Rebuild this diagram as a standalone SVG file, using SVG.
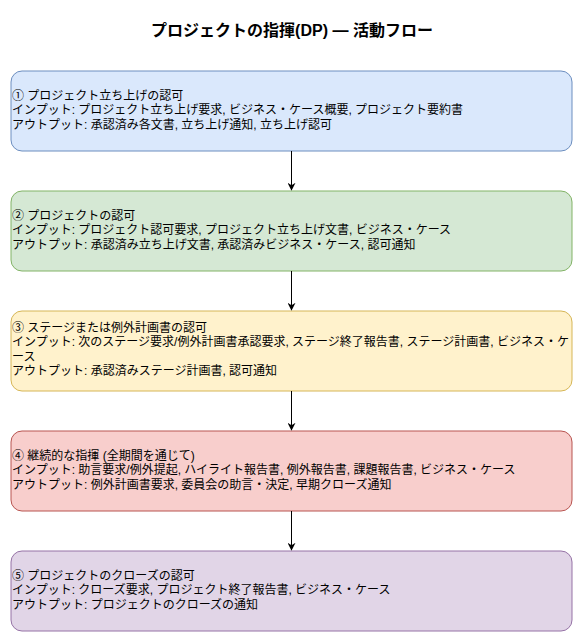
<svg xmlns="http://www.w3.org/2000/svg" width="584" height="643" viewBox="0 0 584 643">
<defs>
<marker id="arr" viewBox="0 0 10 10" refX="9" refY="5" markerWidth="8" markerHeight="8" markerUnits="userSpaceOnUse" orient="auto">
<path d="M0,0 L10,5 L0,10 L3,5 Z" fill="#000"/>
</marker>
</defs>
<style>
text{font-family:"Liberation Sans","Noto Sans CJK JP",sans-serif;fill:#000}
.t{font-size:12px}
.title{font-size:16px;font-weight:bold}
.box{stroke-width:1}
.edge{stroke:#000;stroke-width:1;fill:none}
</style>
<rect width="584" height="643" fill="#fff"/>
<text class="title" x="292" y="36" text-anchor="middle">プロジェクトの指揮(DP) — 活動フロー</text>
<g id="n1">
<rect class="box" x="11" y="71" width="561" height="80" rx="11" fill="#dae8fc" stroke="#6c8ebf"/>
<text class="t" x="12" y="100">① プロジェクト立ち上げの認可</text>
<text class="t" x="12" y="114">インプット: プロジェクト立ち上げ要求, ビジネス・ケース概要, プロジェクト要約書</text>
<text class="t" x="12" y="129">アウトプット: 承認済み各文書, 立ち上げ通知, 立ち上げ認可</text>
</g>
<g id="n2">
<rect class="box" x="11" y="191" width="561" height="80" rx="11" fill="#d5e8d4" stroke="#82b366"/>
<text class="t" x="12" y="220">② プロジェクトの認可</text>
<text class="t" x="12" y="234">インプット: プロジェクト認可要求, プロジェクト立ち上げ文書, ビジネス・ケース</text>
<text class="t" x="12" y="249">アウトプット: 承認済み立ち上げ文書, 承認済みビジネス・ケース, 認可通知</text>
</g>
<g id="n3">
<rect class="box" x="11" y="311" width="561" height="80" rx="11" fill="#fff2cc" stroke="#d6b656"/>
<text class="t" x="12" y="332">③ ステージまたは例外計画書の認可</text>
<text class="t" x="12" y="346">インプット: 次のステージ要求/例外計画書承認要求, ステージ終了報告書, ステージ計画書, ビジネス・ケ</text>
<text class="t" x="12" y="361">ース</text>
<text class="t" x="12" y="375">アウトプット: 承認済みステージ計画書, 認可通知</text>
</g>
<g id="n4">
<rect class="box" x="11" y="431" width="561" height="80" rx="11" fill="#f8cecc" stroke="#b85450"/>
<text class="t" x="12" y="460">④ 継続的な指揮 (全期間を通じて)</text>
<text class="t" x="12" y="474">インプット: 助言要求/例外提起, ハイライト報告書, 例外報告書, 課題報告書, ビジネス・ケース</text>
<text class="t" x="12" y="489">アウトプット: 例外計画書要求, 委員会の助言・決定, 早期クローズ通知</text>
</g>
<g id="n5">
<rect class="box" x="11" y="551" width="561" height="80" rx="11" fill="#e1d5e7" stroke="#9673a6"/>
<text class="t" x="12" y="580">⑤ プロジェクトのクローズの認可</text>
<text class="t" x="12" y="594">インプット: クローズ要求, プロジェクト終了報告書, ビジネス・ケース</text>
<text class="t" x="12" y="609">アウトプット: プロジェクトのクローズの通知</text>
</g>
<g id="edges">
<path class="edge" d="M291.5,151 L291.5,190" marker-end="url(#arr)"/>
<path class="edge" d="M291.5,271 L291.5,310" marker-end="url(#arr)"/>
<path class="edge" d="M291.5,391 L291.5,430" marker-end="url(#arr)"/>
<path class="edge" d="M291.5,511 L291.5,550" marker-end="url(#arr)"/>
</g>
</svg>
